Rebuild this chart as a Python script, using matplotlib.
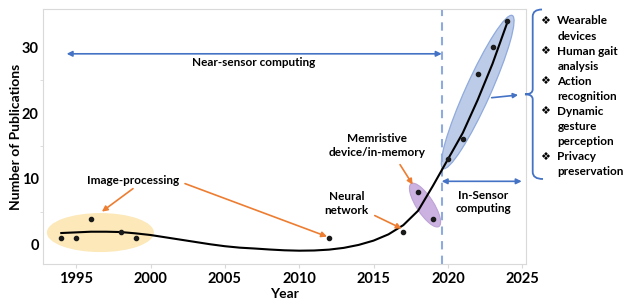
import numpy as np
import matplotlib.pyplot as plt
import matplotlib.transforms as mtransforms
from matplotlib.patches import Ellipse, PathPatch
from matplotlib.path import Path

plt.rcParams['font.family'] = ['Lato', 'DejaVu Sans']
plt.rcParams['font.weight'] = 'bold'

# publications per year
years = [1994, 1995, 1996, 1998, 1999, 2012, 2017, 2018, 2019, 2020, 2021, 2022, 2023, 2024]
pubs = [1, 1, 4, 2, 1, 1, 2, 8, 4, 13, 16, 26, 30, 34]

# trend line
trend_years = list(range(1994, 2025))
trend_vals = [1.8, 1.9, 2.0, 2.0, 1.95, 1.75, 1.5, 1.15, 0.8, 0.45, 0.1,
              -0.2, -0.42, -0.55, -0.7, -0.82, -0.88, -0.85, -0.72, -0.45, 0.0,
              0.65, 1.6, 3.0, 5.2, 9.0, 13.0, 17.0, 22.0, 27.5, 33.8]

x_ticks = [1995, 2000, 2005, 2010, 2015, 2020, 2025]
y_ticks = [0, 10, 20, 30]
y_minor = [5, 15, 25]
split_year = 2019.58

bullets = [['Wearable', 'devices'],
           ['Human gait', 'analysis'],
           ['Action', 'recognition'],
           ['Dynamic', 'gesture', 'perception'],
           ['Privacy', 'preservation']]

ORANGE = '#ed7d31'
BLUE = '#4472c4'

fig = plt.figure(figsize=(6.24, 3.01), dpi=100)
ax = fig.add_axes([43 / 624, 1 - 264 / 301, (526 - 43) / 624, (264 - 9) / 301])


def px_ellipse(cx, cy, w, h, angle, **kw):
    """ellipse sized in pixels, centred on a data point"""
    tr = mtransforms.Affine2D() + mtransforms.ScaledTranslation(cx, cy, ax.transData)
    e = Ellipse((0, 0), w, h, angle=angle, transform=tr, **kw)
    ax.add_patch(e)


px_ellipse(1996.63, 1.87, 107, 39, 0, fc='#fce8b8', ec='none', zorder=1)
px_ellipse(2018.46, 6.04, 51, 17, -57, fc='#cbb2e0', ec='#bda3d6', lw=0.8, zorder=1)
px_ellipse(2022.0, 23.2, 168, 25, 65.7, fc='#bccbe8', ec='#8faadc', lw=0.9, zorder=1)

ax.plot(trend_years, trend_vals, color='black', lw=1.5, zorder=3)
ax.plot(years, pubs, 'o', color='#1a1a1a', ms=3, zorder=4)

ax.axvline(split_year, color='#8faadc', lw=1.5, dashes=(4, 3), zorder=2)

arr_o = dict(arrowstyle='-|>', color=ORANGE, lw=1.2, mutation_scale=8, shrinkA=0, shrinkB=0)
arr_b = dict(arrowstyle='<|-|>', color=BLUE, lw=1.2, mutation_scale=8, shrinkA=0, shrinkB=0)
fs = 8.5

ax.annotate('', xy=(1994.36, 29.0), xytext=(split_year, 29.0), arrowprops=arr_b)
ax.text(2006.94, 27.66, 'Near-sensor computing', fontsize=fs, ha='center', va='center')
ax.annotate('', xy=(split_year, 9.65), xytext=(2024.96, 9.65), arrowprops=arr_b)
ax.text(2022.38, 6.5, 'In-Sensor\ncomputing', fontsize=fs, ha='center', va='center',
        linespacing=1.25)

ax.text(1998.82, 9.75, 'Image-processing', fontsize=fs, ha='center', va='center')
ax.annotate('', xy=(1996.73, 5.05), xytext=(1998.82, 8.54), arrowprops=arr_o)
ax.annotate('', xy=(2011.87, 1.26), xytext=(2002.32, 9.3), arrowprops=arr_o)
ax.text(2013.19, 6.27, 'Neural\nnetwork', fontsize=fs, ha='center', va='center',
        linespacing=1.25)
ax.annotate('', xy=(2016.89, 2.48), xytext=(2015.08, 4.45), arrowprops=arr_o)
ax.text(2015.21, 15.07, 'Memristive\ndevice/in-memory', fontsize=fs, ha='center',
        va='center', linespacing=1.25)
ax.annotate('', xy=(2017.63, 9.15), xytext=(2016.78, 12.18), arrowprops=arr_o)

# arrow from the in-sensor cluster to the bracket (figure pixels, top-left origin)
H = 301
ax.annotate('', xy=(525, H - 94.3), xycoords='figure pixels',
            xytext=(491.7, H - 97.7), textcoords='figure pixels',
            arrowprops=dict(arrowstyle='-|>', color=BLUE, lw=1.2, mutation_scale=7,
                            shrinkA=0, shrinkB=5),
            annotation_clip=False)

bx, top, mid, bot = 532.7, 9.5, 94.3, 179
verts = [(542, top), (bx, top), (bx, top + 7),
         (bx, mid - 5), (bx, mid), (525, mid),
         (bx, mid), (bx, mid + 5),
         (bx, bot - 7), (bx, bot), (543, bot)]
codes = [Path.MOVETO, Path.CURVE3, Path.CURVE3,
         Path.LINETO, Path.CURVE3, Path.CURVE3,
         Path.CURVE3, Path.CURVE3,
         Path.LINETO, Path.CURVE3, Path.CURVE3]
verts = [(x / 624, (H - y) / H) for x, y in verts]
fig.add_artist(PathPatch(Path(verts, codes), fc='none', ec=BLUE, lw=1.3,
                         transform=fig.transFigure))

line = 0
for item in bullets:
    y0 = 20 + line * 15.07
    fig.text(545 / 624, (H - y0) / H, '\u2756', fontsize=8, ha='center',
             va='center_baseline', family=['DejaVu Sans'])
    for part in item:
        y = 20 + line * 15.07
        fig.text(557.3 / 624, (H - y) / H, part, fontsize=fs, ha='left',
                 va='center_baseline')
        line += 1

ax.set_xlim(1992.77, 2025.25)
ax.set_ylim(-2.9, 35.8)
ax.set_xticks(x_ticks)
ax.set_yticks(y_ticks)
ax.set_yticks(y_minor, minor=True)
for s in ax.spines.values():
    s.set_color('#d9d9d9')
ax.tick_params(which='both', colors='#d9d9d9', labelcolor='black', labelsize=10.5)
ax.tick_params(axis='x', length=3, pad=2.5)
ax.tick_params(axis='y', length=0, pad=3)
ax.tick_params(axis='y', which='minor', length=2.5)
ax.set_xlabel('Year', fontsize=10, fontweight='bold')
ax.set_ylabel('Number of Publications', fontsize=10, fontweight='bold')
ax.xaxis.set_label_coords(0.5, -0.096)
ax.yaxis.set_label_coords(-0.0435, 0.5)

fig.savefig('out.png', dpi=100)
